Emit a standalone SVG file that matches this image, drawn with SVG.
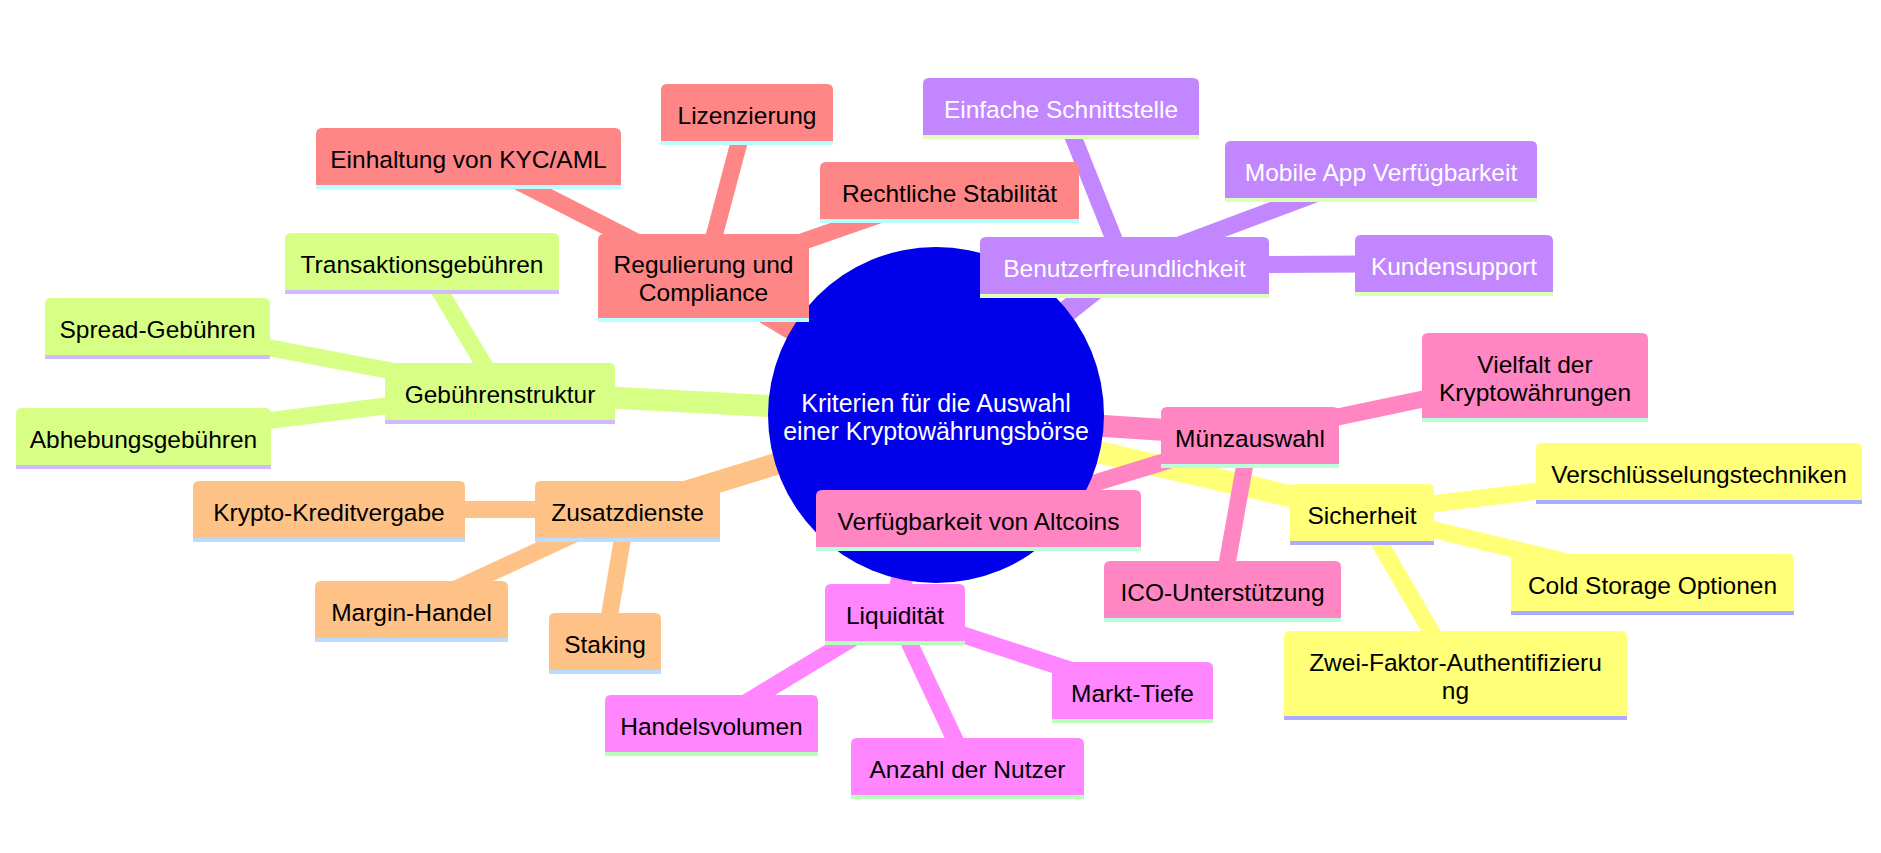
<svg xmlns="http://www.w3.org/2000/svg" width="1881" height="853" viewBox="0 0 1881 853">
<style>
text{font-family:"Liberation Sans",Arial,sans-serif;font-size:24.5px;fill:#000;text-anchor:middle}
.root text{fill:#fff;font-size:25px}
.c line{fill:none}
.e0{stroke-width:22}
.e1{stroke-width:17}
.red .b{fill:#FF8686}.red .s{fill:#B9FFFF}
.pur .b{fill:#C286FF}.pur .s{fill:#DCFFB9}.pur text{fill:#fff}
.lim .b{fill:#D7FF86}.lim .s{fill:#D0B9FF}
.ora .b{fill:#FFC286}.ora .s{fill:#B9DCFF}
.mag .b{fill:#FF86FF}.mag .s{fill:#B9FFB9}
.pin .b{fill:#FF86C2}.pin .s{fill:#B9FFDC}
.yel .b{fill:#FFFF78}.yel .s{fill:#ABABFF}
.lred{stroke:#FF8686}.lpur{stroke:#C286FF}.llim{stroke:#D7FF86}.lora{stroke:#FFC286}.lmag{stroke:#FF86FF}.lpin{stroke:#FF86C2}.lyel{stroke:#FFFF78}
</style>
<rect width="1881" height="853" fill="#fff"/>
<g id="connectors" class="c">
<line class="e0 lyel" x1="936" y1="415" x2="1362" y2="512.5"/>
<line class="e1 lyel" x1="1362" y1="512.5" x2="1699" y2="471.5"/>
<line class="e1 lyel" x1="1362" y1="512.5" x2="1652.5" y2="582.5"/>
<line class="e1 lyel" x1="1362" y1="512.5" x2="1455.5" y2="673.5"/>
<line class="e0 lred" x1="936" y1="415" x2="703.5" y2="276"/>
<line class="e1 lred" x1="703.5" y1="276" x2="468.5" y2="156.5"/>
<line class="e1 lred" x1="703.5" y1="276" x2="747" y2="112.5"/>
<line class="e1 lred" x1="703.5" y1="276" x2="949.5" y2="190.5"/>
<line class="e0 lpur" x1="936" y1="415" x2="1124.5" y2="265.5"/>
<line class="e1 lpur" x1="1124.5" y1="265.5" x2="1061" y2="106.5"/>
<line class="e1 lpur" x1="1124.5" y1="265.5" x2="1381" y2="169.5"/>
<line class="e1 lpur" x1="1124.5" y1="265.5" x2="1454" y2="263.5"/>
<line class="e0 llim" x1="936" y1="415" x2="500" y2="391.5"/>
<line class="e1 llim" x1="500" y1="391.5" x2="422" y2="261.5"/>
<line class="e1 llim" x1="500" y1="391.5" x2="157.5" y2="326.5"/>
<line class="e1 llim" x1="500" y1="391.5" x2="143.5" y2="436.5"/>
<line class="e0 lora" x1="936" y1="415" x2="627.5" y2="509.5"/>
<line class="e1 lora" x1="627.5" y1="509.5" x2="329" y2="509.5"/>
<line class="e1 lora" x1="627.5" y1="509.5" x2="411.5" y2="609.5"/>
<line class="e1 lora" x1="627.5" y1="509.5" x2="605" y2="641.5"/>
<line class="e0 lmag" x1="936" y1="415" x2="895" y2="612.5"/>
<line class="e1 lmag" x1="895" y1="612.5" x2="711.5" y2="723.5"/>
<line class="e1 lmag" x1="895" y1="612.5" x2="967.5" y2="766.5"/>
<line class="e1 lmag" x1="895" y1="612.5" x2="1132.5" y2="690.5"/>
<line class="e0 lpin" x1="936" y1="415" x2="1250" y2="435.5"/>
<line class="e1 lpin" x1="1250" y1="435.5" x2="1535" y2="375.5"/>
<line class="e1 lpin" x1="1250" y1="435.5" x2="978.5" y2="518.5"/>
<line class="e1 lpin" x1="1250" y1="435.5" x2="1222.5" y2="589.5"/>
</g>
<g id="root" class="root">
<circle cx="936" cy="415" r="168" fill="#0000EB"/>
<text x="936" y="412">Kriterien für die Auswahl</text>
<text x="936" y="440">einer Kryptowährungsbörse</text>
</g>
<g id="reg" class="red"><path class="b" d="M598 318V240Q598 234 604 234H803Q809 234 809 240V318Z"/><rect class="s" x="598" y="318" width="211" height="4"/><text x="703.5" y="273">Regulierung und</text><text x="703.5" y="301">Compliance</text></g>
<g id="kyc" class="red"><path class="b" d="M316 185V134Q316 128 322 128H615Q621 128 621 134V185Z"/><rect class="s" x="316" y="185" width="305" height="4"/><text x="468.5" y="167.5">Einhaltung von KYC/AML</text></g>
<g id="lizenz" class="red"><path class="b" d="M661 141V90Q661 84 667 84H827Q833 84 833 90V141Z"/><rect class="s" x="661" y="141" width="172" height="4"/><text x="747" y="123.5">Lizenzierung</text></g>
<g id="recht" class="red"><path class="b" d="M820 219V168Q820 162 826 162H1073Q1079 162 1079 168V219Z"/><rect class="s" x="820" y="219" width="259" height="4"/><text x="949.5" y="201.5">Rechtliche Stabilität</text></g>
<g id="benutzer" class="pur"><path class="b" d="M980 294V243Q980 237 986 237H1263Q1269 237 1269 243V294Z"/><rect class="s" x="980" y="294" width="289" height="4"/><text x="1124.5" y="276.5">Benutzerfreundlichkeit</text></g>
<g id="einfach" class="pur"><path class="b" d="M923 135V84Q923 78 929 78H1193Q1199 78 1199 84V135Z"/><rect class="s" x="923" y="135" width="276" height="4"/><text x="1061" y="117.5">Einfache Schnittstelle</text></g>
<g id="mobile" class="pur"><path class="b" d="M1225 198V147Q1225 141 1231 141H1531Q1537 141 1537 147V198Z"/><rect class="s" x="1225" y="198" width="312" height="4"/><text x="1381" y="180.5">Mobile App Verfügbarkeit</text></g>
<g id="kunden" class="pur"><path class="b" d="M1355 292V241Q1355 235 1361 235H1547Q1553 235 1553 241V292Z"/><rect class="s" x="1355" y="292" width="198" height="4"/><text x="1454" y="274.5">Kundensupport</text></g>
<g id="gebuehren" class="lim"><path class="b" d="M385 420V369Q385 363 391 363H609Q615 363 615 369V420Z"/><rect class="s" x="385" y="420" width="230" height="4"/><text x="500" y="402.5">Gebührenstruktur</text></g>
<g id="trans" class="lim"><path class="b" d="M285 290V239Q285 233 291 233H553Q559 233 559 239V290Z"/><rect class="s" x="285" y="290" width="274" height="4"/><text x="422" y="272.5">Transaktionsgebühren</text></g>
<g id="spread" class="lim"><path class="b" d="M45 355V304Q45 298 51 298H264Q270 298 270 304V355Z"/><rect class="s" x="45" y="355" width="225" height="4"/><text x="157.5" y="337.5">Spread-Gebühren</text></g>
<g id="abheb" class="lim"><path class="b" d="M16 465V414Q16 408 22 408H265Q271 408 271 414V465Z"/><rect class="s" x="16" y="465" width="255" height="4"/><text x="143.5" y="447.5">Abhebungsgebühren</text></g>
<g id="zusatz" class="ora"><path class="b" d="M535 538V487Q535 481 541 481H714Q720 481 720 487V538Z"/><rect class="s" x="535" y="538" width="185" height="4"/><text x="627.5" y="520.5">Zusatzdienste</text></g>
<g id="krypto" class="ora"><path class="b" d="M193 538V487Q193 481 199 481H459Q465 481 465 487V538Z"/><rect class="s" x="193" y="538" width="272" height="4"/><text x="329" y="520.5">Krypto-Kreditvergabe</text></g>
<g id="margin" class="ora"><path class="b" d="M315 638V587Q315 581 321 581H502Q508 581 508 587V638Z"/><rect class="s" x="315" y="638" width="193" height="4"/><text x="411.5" y="620.5">Margin-Handel</text></g>
<g id="staking" class="ora"><path class="b" d="M549 670V619Q549 613 555 613H655Q661 613 661 619V670Z"/><rect class="s" x="549" y="670" width="112" height="4"/><text x="605" y="652.5">Staking</text></g>
<g id="liquid" class="mag"><path class="b" d="M825 641V590Q825 584 831 584H959Q965 584 965 590V641Z"/><rect class="s" x="825" y="641" width="140" height="4"/><text x="895" y="623.5">Liquidität</text></g>
<g id="handel" class="mag"><path class="b" d="M605 752V701Q605 695 611 695H812Q818 695 818 701V752Z"/><rect class="s" x="605" y="752" width="213" height="4"/><text x="711.5" y="734.5">Handelsvolumen</text></g>
<g id="anzahl" class="mag"><path class="b" d="M851 795V744Q851 738 857 738H1078Q1084 738 1084 744V795Z"/><rect class="s" x="851" y="795" width="233" height="4"/><text x="967.5" y="777.5">Anzahl der Nutzer</text></g>
<g id="markt" class="mag"><path class="b" d="M1052 719V668Q1052 662 1058 662H1207Q1213 662 1213 668V719Z"/><rect class="s" x="1052" y="719" width="161" height="4"/><text x="1132.5" y="701.5">Markt-Tiefe</text></g>
<g id="muenz" class="pin"><path class="b" d="M1161 464V413Q1161 407 1167 407H1333Q1339 407 1339 413V464Z"/><rect class="s" x="1161" y="464" width="178" height="4"/><text x="1250" y="446.5">Münzauswahl</text></g>
<g id="vielfalt" class="pin"><path class="b" d="M1422 418V339Q1422 333 1428 333H1642Q1648 333 1648 339V418Z"/><rect class="s" x="1422" y="418" width="226" height="4"/><text x="1535" y="373">Vielfalt der</text><text x="1535" y="401">Kryptowährungen</text></g>
<g id="altcoins" class="pin"><path class="b" d="M816 547V496Q816 490 822 490H1135Q1141 490 1141 496V547Z"/><rect class="s" x="816" y="547" width="325" height="4"/><text x="978.5" y="529.5">Verfügbarkeit von Altcoins</text></g>
<g id="ico" class="pin"><path class="b" d="M1104 618V567Q1104 561 1110 561H1335Q1341 561 1341 567V618Z"/><rect class="s" x="1104" y="618" width="237" height="4"/><text x="1222.5" y="600.5">ICO-Unterstützung</text></g>
<g id="sicher" class="yel"><path class="b" d="M1290 541V490Q1290 484 1296 484H1428Q1434 484 1434 490V541Z"/><rect class="s" x="1290" y="541" width="144" height="4"/><text x="1362" y="523.5">Sicherheit</text></g>
<g id="versch" class="yel"><path class="b" d="M1536 500V449Q1536 443 1542 443H1856Q1862 443 1862 449V500Z"/><rect class="s" x="1536" y="500" width="326" height="4"/><text x="1699" y="482.5">Verschlüsselungstechniken</text></g>
<g id="cold" class="yel"><path class="b" d="M1511 611V560Q1511 554 1517 554H1788Q1794 554 1794 560V611Z"/><rect class="s" x="1511" y="611" width="283" height="4"/><text x="1652.5" y="593.5">Cold Storage Optionen</text></g>
<g id="zwei" class="yel"><path class="b" d="M1284 716V637Q1284 631 1290 631H1621Q1627 631 1627 637V716Z"/><rect class="s" x="1284" y="716" width="343" height="4"/><text x="1455.5" y="670.5">Zwei-Faktor-Authentifizieru</text><text x="1455.5" y="699">ng</text></g>
</svg>
